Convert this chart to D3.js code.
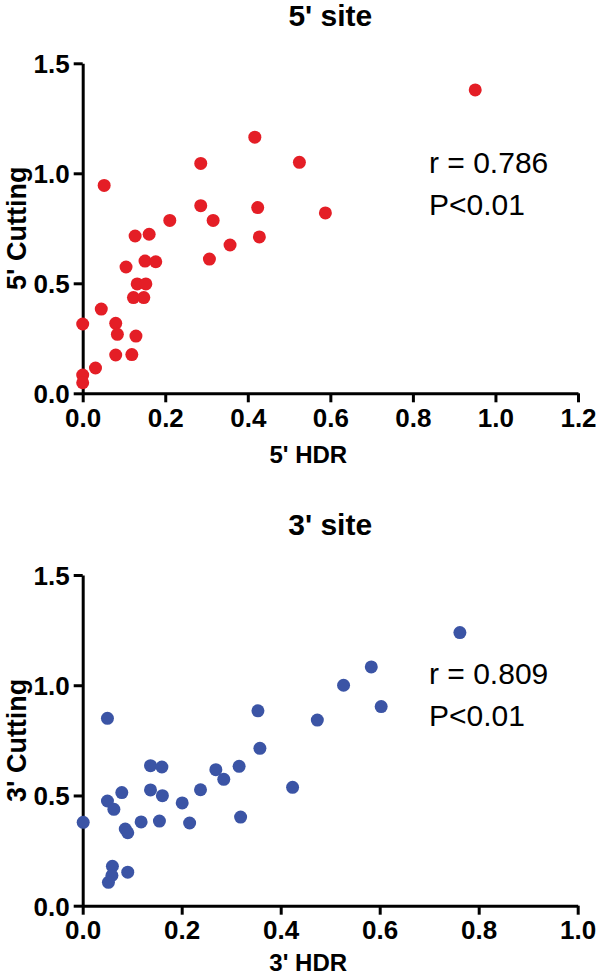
<!DOCTYPE html>
<html>
<head>
<meta charset="utf-8">
<script src="https://cdn.jsdelivr.net/npm/d3@7"></script>
<style>
  html, body { margin: 0; padding: 0; background: #fff; }
  svg { display: block; }
  text { font-family: "Liberation Sans", Arial, sans-serif; fill: #000; }
</style>
</head>
<body>
<svg id="chart" width="596" height="980"></svg>
<script>
// ---------- data ----------
const hdr5 = [0.417,0.286,0.052,0.286,0.424,0.211,0.316,0.127,0.161,0.428,0.357,0.307,0.151,0.177,0.105,0.132,0.153,0.123,0.148,0.045,0.0,0.080,0.084,0.129,0.080,0.119,0.031,0.0,0.0,0.525,0.588,0.951];
const cut5 = [1.164,1.045,0.945,0.853,0.844,0.786,0.786,0.715,0.723,0.711,0.674,0.610,0.601,0.598,0.574,0.497,0.497,0.435,0.435,0.383,0.315,0.318,0.268,0.260,0.174,0.176,0.115,0.083,0.048,1.050,0.820,1.379];

const hdr3 = [0.354,0.050,0.358,0.137,0.160,0.269,0.316,0.285,0.137,0.238,0.079,0.161,0.050,0.201,0.063,0.001,0.118,0.155,0.216,0.319,0.086,0.091,0.060,0.059,0.052,0.091,0.424,0.474,0.527,0.583,0.603,0.762];
const cut3 = [0.884,0.850,0.714,0.635,0.629,0.617,0.632,0.573,0.525,0.526,0.513,0.499,0.475,0.466,0.437,0.378,0.380,0.384,0.375,0.402,0.348,0.331,0.179,0.137,0.106,0.152,0.537,0.842,1.000,1.083,0.903,1.239];

const xTicks5 = [0, 0.2, 0.4, 0.6, 0.8, 1.0, 1.2];
const xTicks3 = [0, 0.2, 0.4, 0.6, 0.8, 1.0];
const yTicks = [0, 0.5, 1.0, 1.5];

const titles = ["5' site", "3' site"];
const xLabels = ["5' HDR", "3' HDR"];
const yLabels = ["5' Cutting", "3' Cutting"];
const stats = [["r = 0.786", "P<0.01"], ["r = 0.809", "P<0.01"]];
const colors = ["#e41e26", "#3b54a5"];

// ---------- layout ----------
const panels = [
  { xs: hdr5, ys: cut5, xDomain: [0, 1.2], xTicks: xTicks5,
    x0: 82.7, x1: 578, yTop: 63.3, yBot: 393.3, titleY: 26, xLabelY: 463, statY: 173 },
  { xs: hdr3, ys: cut3, xDomain: [0, 1.0], xTicks: xTicks3,
    x0: 82.7, x1: 577.7, yTop: 575, yBot: 905.7, titleY: 535, xLabelY: 971, statY: 684 }
];

const svg = d3.select("#chart");
const fmt = d3.format(".1f");

panels.forEach((p, i) => {
  const x = d3.scaleLinear().domain(p.xDomain).range([p.x0, p.x1]);
  const y = d3.scaleLinear().domain([0, 1.5]).range([p.yBot, p.yTop]);
  const g = svg.append("g");

  // title
  g.append("text")
    .attr("x", (p.x0 + p.x1) / 2).attr("y", p.titleY)
    .attr("text-anchor", "middle")
    .style("font-size", "30px").style("font-weight", "bold")
    .text(titles[i]);

  // x axis
  const xa = g.append("g")
    .attr("transform", `translate(0,${p.yBot})`)
    .call(d3.axisBottom(x).tickValues(p.xTicks).tickFormat(fmt)
      .tickSize(9).tickSizeOuter(0).tickPadding(6));
  // y axis
  const ya = g.append("g")
    .attr("transform", `translate(${p.x0},0)`)
    .call(d3.axisLeft(y).tickValues(yTicks).tickFormat(fmt)
      .tickSize(9).tickSizeOuter(0).tickPadding(4));

  [xa, ya].forEach(a => {
    a.select(".domain").attr("stroke", "#000").attr("stroke-width", 3);
    a.selectAll(".tick line").attr("stroke", "#000").attr("stroke-width", 3);
    a.selectAll(".tick text")
      .attr("fill", "#000")
      .style("font-family", "'Liberation Sans', Arial, sans-serif")
      .style("font-size", "26px").style("font-weight", "bold");
  });
  ya.selectAll(".tick text").attr("dy", "0.36em");

  // axis labels
  g.append("text")
    .attr("x", (p.x0 + p.x1) / 2 - 22).attr("y", p.xLabelY)
    .attr("text-anchor", "middle")
    .style("font-size", "24px").style("font-weight", "bold")
    .text(xLabels[i]);
  g.append("text")
    .attr("transform", `translate(26,${(p.yTop + p.yBot) / 2}) rotate(-90)`)
    .attr("text-anchor", "middle")
    .style("font-size", "27px").style("font-weight", "bold")
    .text(yLabels[i]);

  // stats text
  stats[i].forEach((s, k) => {
    g.append("text")
      .attr("x", 429).attr("y", p.statY + k * 42)
      .style("font-size", "30px")
      .text(s);
  });

  // points
  g.append("g").selectAll("circle")
    .data(p.xs.map((v, j) => [v, p.ys[j]]))
    .join("circle")
    .attr("cx", d => x(d[0]))
    .attr("cy", d => y(d[1]))
    .attr("r", 6.5)
    .attr("fill", colors[i]);
});
</script>
</body>
</html>
